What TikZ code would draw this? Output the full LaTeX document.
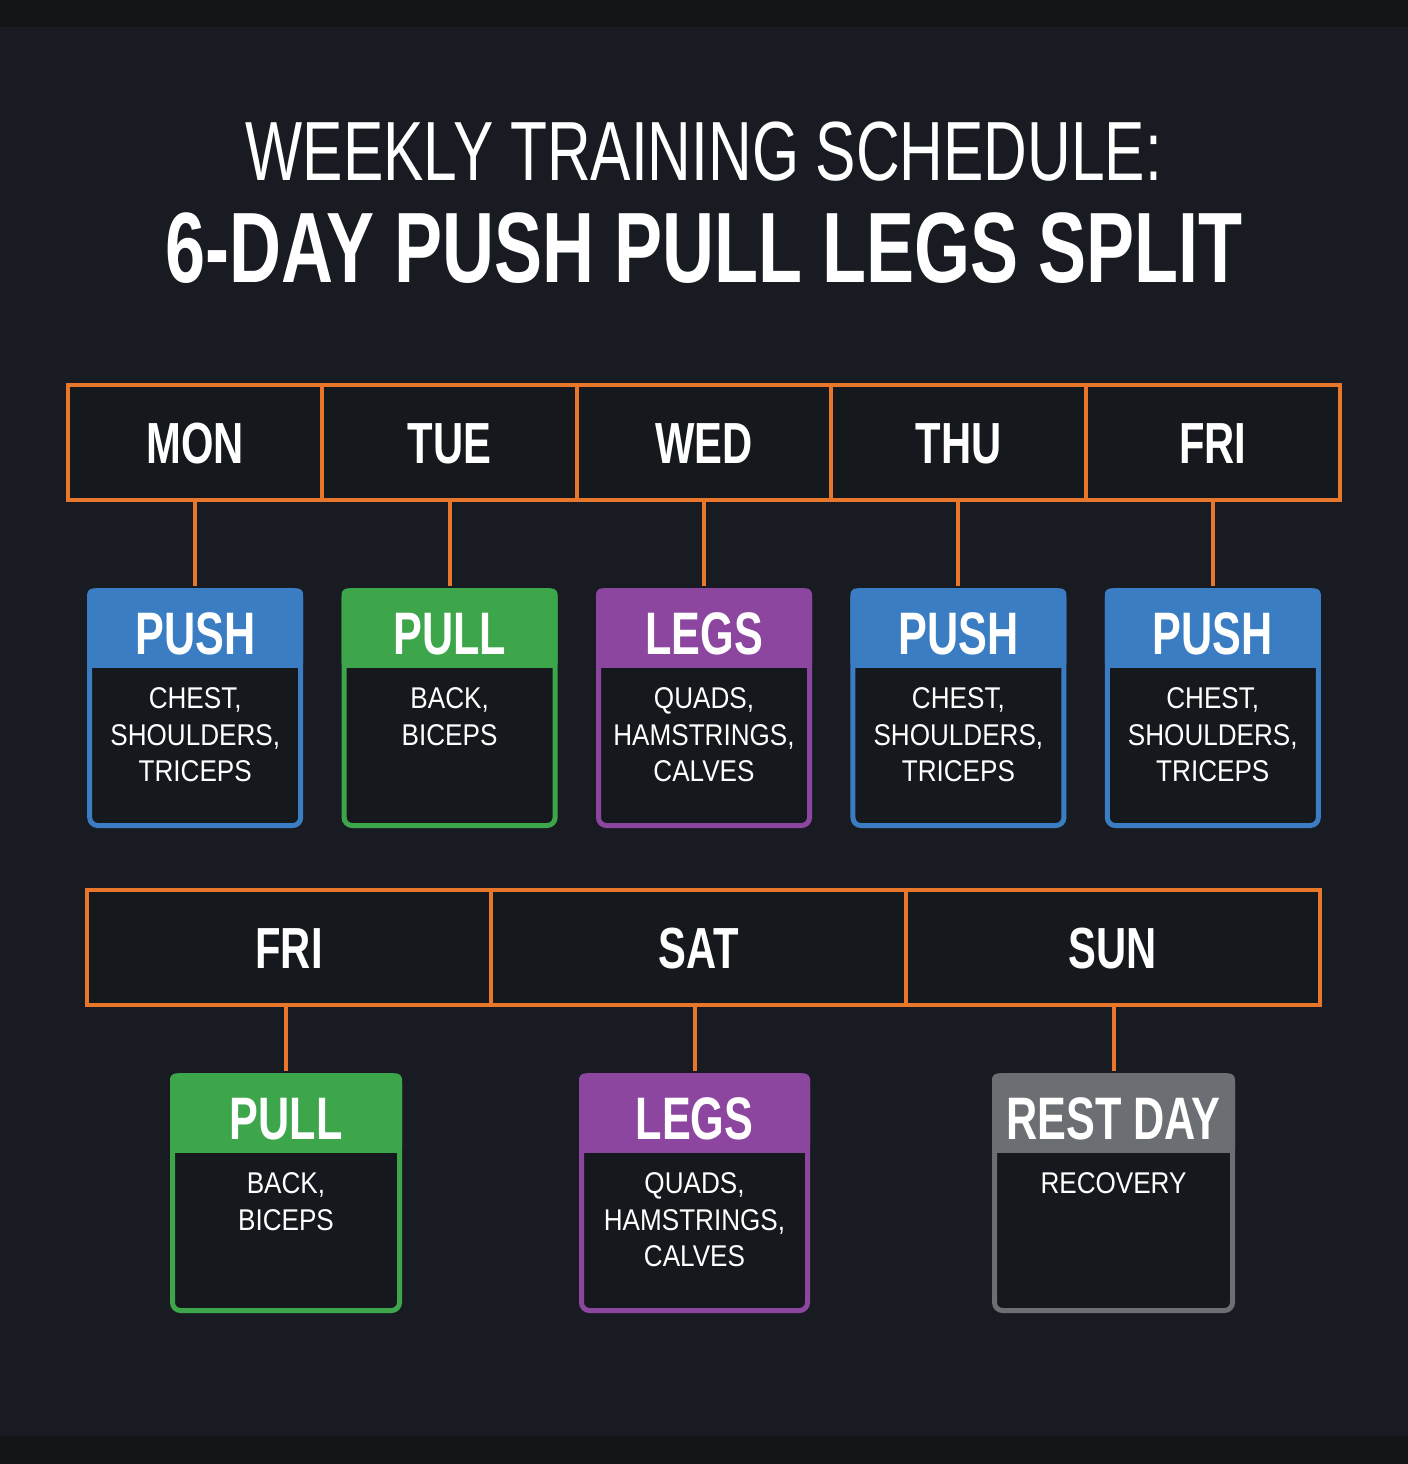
\documentclass[tikz,border=0pt]{standalone}
\usepackage{fontspec}
\setmainfont{Liberation Sans}[FakeStretch=0.72]
\newfontfamily\bodyfont{Liberation Sans}[FakeStretch=0.87]
\usepackage{tikz}

\definecolor{bgband}{HTML}{121418}
\definecolor{bgdark}{HTML}{181C22}
\definecolor{cellfill}{HTML}{15181D}
\definecolor{orangeline}{HTML}{E8772C}
\definecolor{pushblue}{HTML}{3A7DC2}
\definecolor{pullgreen}{HTML}{3DA64B}
\definecolor{legspurple}{HTML}{8C469F}
\definecolor{restgray}{HTML}{6B6E72}

\tikzset{
	daycell/.style={draw=orangeline, line width=2pt, fill=cellfill, minimum width=#1, minimum height=57.5pt, inner sep=0pt, text=white, font=\bfseries\fontsize{29}{34}\selectfont, text height=20.8pt, text depth=0pt},
	card/.style 2 args={draw=#1, fill=cellfill, line width=2.5pt, rounded corners=4pt, minimum width=#2, minimum height=117.5pt, inner sep=0pt},
	cardhead/.style 2 args={fill=#1, rounded corners=3pt, anchor=north, minimum width=#2+2.5pt, minimum height=39.75pt, inner sep=0pt, text=white, font=\bfseries\fontsize{30}{36}\selectfont, text height=26pt, text depth=0pt},
	cardtext/.style={anchor=north, align=center, inner sep=0pt, text=white, font=\bodyfont\fontsize{15}{18.25}\selectfont},
	link/.style={draw=orangeline, line width=2pt, shorten >=1.25pt}
}

\begin{document}
\begin{tikzpicture}[x=0.5pt, y=-0.5pt]
		
		% Background
		\useasboundingbox (0,0) rectangle (1408,1464);
		\fill[bgband] (0,0) rectangle (1408,1464);
		\fill[bgdark] (0,27) rectangle (1408,1436);
		
		% Title
		\node[anchor=base, text=white, font=\fontsize{42}{50}\selectfont] (title) at (704,180) {WEEKLY TRAINING SCHEDULE:};
		\node[anchor=base, text=white, font=\bfseries\fontsize{50}{60}\selectfont] (subtitle) at (704,282) {6-DAY PUSH PULL LEGS SPLIT};
		
		% First week row: day cells
		\node[daycell=127.2pt] (monDay) at (195.2,442.5) {MON};
		\node[daycell=127.2pt] (tueDay) at (449.6,442.5) {TUE};
		\node[daycell=127.2pt] (wedDay) at (704,442.5) {WED};
		\node[daycell=127.2pt] (thuDay) at (958.4,442.5) {THU};
		\node[daycell=127.2pt] (friDay) at (1212.8,442.5) {FRI};
		
		% First week row: workout cards
		\node[card={pushblue}{105.5pt}] (monCard) at (195.2,708) {};
		\node[cardhead={pushblue}{105.5pt}] (monHead) at (monCard.north) {PUSH};
		\node[cardtext] (monText) at ([shift={(0,19)}]monHead.south) {CHEST,\\SHOULDERS,\\TRICEPS};
		
		\node[card={pullgreen}{105.5pt}] (tueCard) at (449.6,708) {};
		\node[cardhead={pullgreen}{105.5pt}] (tueHead) at (tueCard.north) {PULL};
		\node[cardtext] (tueText) at ([shift={(0,19)}]tueHead.south) {BACK,\\BICEPS};
		
		\node[card={legspurple}{105.5pt}] (wedCard) at (704,708) {};
		\node[cardhead={legspurple}{105.5pt}] (wedHead) at (wedCard.north) {LEGS};
		\node[cardtext] (wedText) at ([shift={(0,19)}]wedHead.south) {QUADS,\\HAMSTRINGS,\\CALVES};
		
		\node[card={pushblue}{105.5pt}] (thuCard) at (958.4,708) {};
		\node[cardhead={pushblue}{105.5pt}] (thuHead) at (thuCard.north) {PUSH};
		\node[cardtext] (thuText) at ([shift={(0,19)}]thuHead.south) {CHEST,\\SHOULDERS,\\TRICEPS};
		
		\node[card={pushblue}{105.5pt}] (friCard) at (1212.8,708) {};
		\node[cardhead={pushblue}{105.5pt}] (friHead) at (friCard.north) {PUSH};
		\node[cardtext] (friText) at ([shift={(0,19)}]friHead.south) {CHEST,\\SHOULDERS,\\TRICEPS};
		
		% First week row: connectors
		\draw[link] (monDay) -- (monCard);
		\draw[link] (tueDay) -- (tueCard);
		\draw[link] (wedDay) -- (wedCard);
		\draw[link] (thuDay) -- (thuCard);
		\draw[link] (friDay) -- (friCard);
		
		% Second week row: day cells
		\node[daycell=202pt] (friDayB) at (289,947.5) {FRI};
		\node[daycell=207.5pt] (satDay) at (698.5,947.5) {SAT};
		\node[daycell=207pt] (sunDay) at (1113,947.5) {SUN};
		
		% Second week row: workout cards
		\node[card={pullgreen}{113.5pt}] (friCardB) at (286,1193) {};
		\node[cardhead={pullgreen}{113.5pt}] (friHeadB) at (friCardB.north) {PULL};
		\node[cardtext] (friTextB) at ([shift={(0,19)}]friHeadB.south) {BACK,\\BICEPS};
		
		\node[card={legspurple}{113pt}] (satCard) at (694.5,1193) {};
		\node[cardhead={legspurple}{113pt}] (satHead) at (satCard.north) {LEGS};
		\node[cardtext] (satText) at ([shift={(0,19)}]satHead.south) {QUADS,\\HAMSTRINGS,\\CALVES};
		
		\node[card={restgray}{119pt}] (sunCard) at (1113.5,1193) {};
		\node[cardhead={restgray}{119pt}] (sunHead) at (sunCard.north) {REST DAY};
		\node[cardtext] (sunText) at ([shift={(0,19)}]sunHead.south) {RECOVERY};
		
		% Second week row: connectors
		\draw[link] (friCardB.north |- friDayB.south) -- (friCardB.north);
		\draw[link] (satCard.north |- satDay.south) -- (satCard.north);
		\draw[link] (sunCard.north |- sunDay.south) -- (sunCard.north);
		
\end{tikzpicture}
\end{document}
